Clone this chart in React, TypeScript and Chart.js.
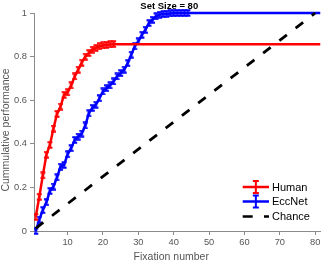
import React, { useEffect, useRef } from "react";
import { Chart, registerables } from "chart.js";

Chart.register(...registerables);

const titleText = "Set Size = 80";
const xTitle = "Fixation number";
const yTitle = "Cummulative performance";

const humanLabel = "Human";
const eccLabel = "EccNet";
const chanceLabel = "Chance";

const humanX = [1, 2, 3, 4, 5, 6, 7, 8, 9, 10, 11, 12, 13, 14, 15, 16, 17, 18, 19, 20, 21, 22, 23];
const humanY = [0.065, 0.157, 0.255, 0.35, 0.395, 0.47, 0.537, 0.571, 0.625, 0.636, 0.668, 0.709, 0.74, 0.772, 0.8, 0.816, 0.832, 0.84, 0.847, 0.851, 0.854, 0.856, 0.857];

const eccX = [1, 2, 3, 4, 5, 6, 7, 8, 9, 10, 11, 12, 13, 14, 15, 16, 17, 18, 19, 20, 21, 22, 23, 24, 25, 26, 27, 28, 29, 30, 31, 32, 33, 34, 35, 36, 37, 38, 39, 40, 41, 42, 43, 44];
const eccY = [0, 0.052, 0.096, 0.132, 0.184, 0.204, 0.246, 0.295, 0.303, 0.352, 0.38, 0.418, 0.433, 0.447, 0.484, 0.54, 0.565, 0.579, 0.609, 0.64, 0.655, 0.668, 0.686, 0.709, 0.724, 0.74, 0.77, 0.809, 0.847, 0.87, 0.9, 0.923, 0.954, 0.969, 0.985, 0.992, 0.995, 0.997, 0.998, 0.999, 1, 1, 1, 1];

const chanceX = [1, 80];
const chanceY = [0.0125, 1];

const xMin = 0.5;
const xMax = 81.5;
const yMin = 0;
const yMax = 1;
const xTicks = [10, 20, 30, 40, 50, 60, 70, 80];
const yTicks = [0, 0.2, 0.4, 0.6, 0.8, 1];
const yTickLabels = ["0", "0.2", "0.4", "0.6", "0.8", "1"];

const FONT = '"Liberation Sans", Arial, Helvetica, sans-serif';
const RED = "#ff0000";
const BLUE = "#0000ff";
const AXIS = "#8a8a8a";
const TEXT = "#555555";

function makeMarker(color: string): HTMLCanvasElement {
  const c = document.createElement("canvas");
  c.width = 7;
  c.height = 8;
  const g = c.getContext("2d")!;
  g.strokeStyle = color;
  g.lineWidth = 2;
  g.beginPath();
  g.moveTo(3.5, 0.5);
  g.lineTo(3.5, 7.5);
  g.moveTo(1, 1.2);
  g.lineTo(6, 1.2);
  g.moveTo(1, 6.8);
  g.lineTo(6, 6.8);
  g.stroke();
  return c;
}

export default function App() {
  const ref = useRef<HTMLCanvasElement | null>(null);

  useEffect(() => {
    document.body.style.margin = "0";
    const canvas = ref.current;
    if (!canvas) return;

    const humanData = humanX.map((x, i) => ({ x, y: humanY[i] }));
    humanData.push({ x: xMax, y: humanY[humanY.length - 1] });
    const eccData = eccX.map((x, i) => ({ x, y: eccY[i] }));
    eccData.push({ x: xMax, y: eccY[eccY.length - 1] });
    const chanceData = chanceX.map((x, i) => ({ x, y: chanceY[i] }));

    const redMarker = makeMarker(RED);
    const blueMarker = makeMarker(BLUE);

    const textPlugin = {
      id: "customText",
      afterDraw(chart: any) {
        const ctx = chart.ctx as CanvasRenderingContext2D;
        const a = chart.chartArea;
        ctx.save();
        // title
        ctx.fillStyle = "#000";
        ctx.font = `bold 9.5px ${FONT}`;
        ctx.textAlign = "center";
        ctx.textBaseline = "alphabetic";
        ctx.fillText(titleText, (a.left + a.right) / 2 - 8, 8.7);
        // x title
        ctx.fillStyle = TEXT;
        ctx.font = `10.5px ${FONT}`;
        ctx.fillText(xTitle, (a.left + a.right) / 2 - 6, 259.5);
        // y title
        ctx.save();
        ctx.translate(9, (a.top + a.bottom) / 2 + 8);
        ctx.rotate(-Math.PI / 2);
        ctx.fillText(yTitle, 0, 0);
        ctx.restore();

        // legend
        const rows = [
          { label: humanLabel, color: RED, dash: false, y: 187 },
          { label: eccLabel, color: BLUE, dash: false, y: 201.5 },
          { label: chanceLabel, color: "#000", dash: true, y: 216.5 },
        ];
        const lx0 = 242.7;
        const lx1 = 269;
        for (const r of rows) {
          ctx.strokeStyle = r.color;
          ctx.lineWidth = 2.5;
          ctx.lineCap = "butt";
          ctx.setLineDash(r.dash ? [10, 11.3] : []);
          ctx.beginPath();
          ctx.moveTo(lx0, r.y);
          ctx.lineTo(lx1, r.y);
          ctx.stroke();
          ctx.setLineDash([]);
          if (!r.dash) {
            const cx = (lx0 + lx1) / 2;
            ctx.lineWidth = 2;
            ctx.beginPath();
            ctx.moveTo(cx, r.y - 6);
            ctx.lineTo(cx, r.y + 6);
            ctx.moveTo(cx - 3, r.y - 6);
            ctx.lineTo(cx + 3, r.y - 6);
            ctx.moveTo(cx - 3, r.y + 6);
            ctx.lineTo(cx + 3, r.y + 6);
            ctx.stroke();
          }
          ctx.fillStyle = "#000";
          ctx.font = `11px ${FONT}`;
          ctx.textAlign = "left";
          ctx.textBaseline = "middle";
          ctx.fillText(r.label, 272, r.y + 0.5);
        }
        ctx.restore();
      },
    };

    const clip = { left: 0, top: 4, right: 0, bottom: 4 };

    const chart = new Chart(canvas, {
      type: "line",
      data: {
        datasets: [
          {
            label: chanceLabel,
            data: chanceData,
            borderColor: "#000",
            borderWidth: 2.8,
            borderDash: [9.5, 11],
            pointRadius: 0,
            clip,
          } as any,
          {
            label: humanLabel,
            data: humanData,
            borderColor: RED,
            backgroundColor: RED,
            borderWidth: 2.5,
            pointStyle: redMarker as any,
            pointRadius: (c: any) => (c.dataIndex < humanY.length ? 3 : 0),
            clip,
          } as any,
          {
            label: eccLabel,
            data: eccData,
            borderColor: BLUE,
            backgroundColor: BLUE,
            borderWidth: 2.5,
            pointStyle: blueMarker as any,
            pointRadius: (c: any) => (c.dataIndex < eccY.length ? 3 : 0),
            clip,
          } as any,
        ],
      },
      options: {
        animation: false,
        responsive: false,
        events: [],
        layout: { padding: { top: 13, right: 1, left: 0, bottom: 0 } },
        plugins: {
          legend: { display: false },
          tooltip: { enabled: false },
          title: { display: false },
        },
        elements: { line: { tension: 0 } },
        scales: {
          x: {
            type: "linear",
            min: xMin,
            max: xMax,
            afterFit: (s: any) => {
              s.height = 30;
            },
            afterBuildTicks: (s: any) => {
              s.ticks = xTicks.map((v) => ({ value: v }));
            },
            ticks: {
              font: { family: FONT, size: 9.3 },
              color: TEXT,
              padding: 2,
              maxRotation: 0,
              autoSkip: false,
              callback: (v: any) => String(v),
            },
            grid: { drawOnChartArea: false, tickLength: 4, color: AXIS, lineWidth: 1 },
            border: { color: AXIS, width: 1 },
          },
          y: {
            type: "linear",
            min: yMin,
            max: yMax,
            afterFit: (s: any) => {
              s.width = 34;
            },
            afterBuildTicks: (s: any) => {
              s.ticks = yTicks.map((v) => ({ value: v }));
            },
            ticks: {
              font: { family: FONT, size: 9.3 },
              color: TEXT,
              padding: 3,
              autoSkip: false,
              callback: (v: any) => {
                const i = yTicks.indexOf(v);
                return i >= 0 ? yTickLabels[i] : "";
              },
            },
            grid: { drawOnChartArea: false, tickLength: 4, color: AXIS, lineWidth: 1 },
            border: { color: AXIS, width: 1 },
          },
        },
      } as any,
      plugins: [textPlugin],
    });

    return () => chart.destroy();
  }, []);

  return (
    <div style={{ width: 327, height: 261 }}>
      <canvas ref={ref} width={327} height={261} style={{ display: "block" }} />
    </div>
  );
}
